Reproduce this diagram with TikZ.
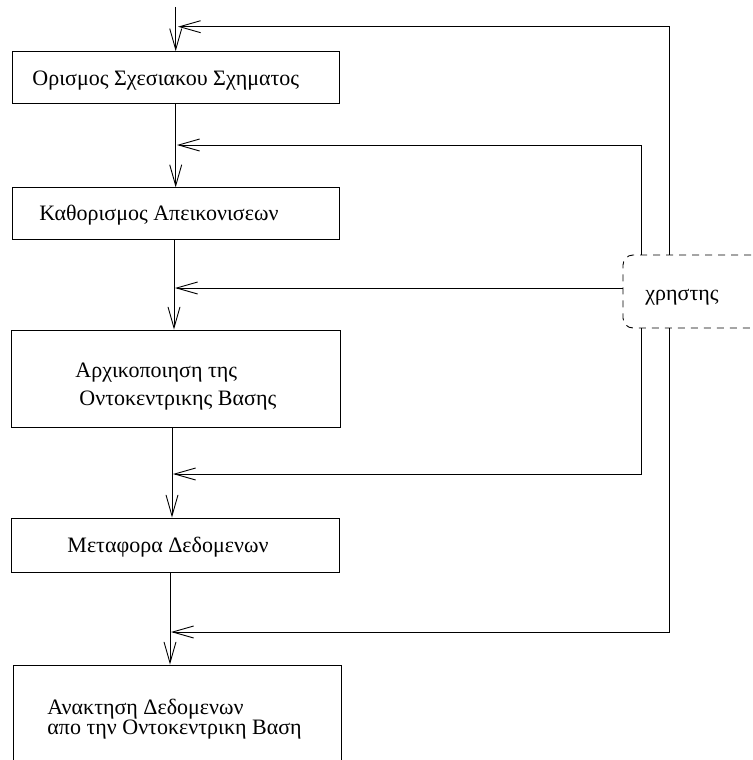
\documentclass[tikz,border=0pt]{standalone}
\usepackage{fontspec}
\setmainfont{Liberation Serif}
\usetikzlibrary{arrows.meta}
\begin{document}
\begin{tikzpicture}[x=1pt,y=-1pt,
  line width=0.9pt,
  box/.style={draw, rectangle, inner sep=0pt},
  lbl/.style={inner sep=0pt, anchor=base west, font=\fontsize{22}{26}\selectfont},
  flow/.style={-{Straight Barb[length=21pt,width=12pt,line width=0.9pt]}},
  userbox/.style={draw, dashed, dash pattern=on 7pt off 6pt, rounded corners=10pt, inner sep=0pt}]
\useasboundingbox (0,0) rectangle (752,760);
\clip (0,0) rectangle (752,760);
% boxes
\node[box, minimum width=327pt, minimum height=51.5pt] (b1) at (176.4,77.4) {};
\node[box, minimum width=327pt, minimum height=52pt] (b2) at (176.4,213.8) {};
\node[box, minimum width=329pt, minimum height=97pt] (b3) at (175.5,378.5) {};
\node[box, minimum width=328pt, minimum height=54pt] (b4) at (175,545) {};
\node[box, minimum width=328pt, minimum height=105pt] (b5) at (177,717.5) {};
\node[userbox, minimum width=177pt, minimum height=73pt] (user) at (711.5,291.5) {};
% texts
\node[lbl] (t1) at (32,85) {Ορισμος Σχεσιακου Σχηματος};
\node[lbl] (t2) at (39,220) {Καθορισμος Απεικονισεων};
\node[lbl] (t3a) at (75,377) {Αρχικοποιηση της};
\node[lbl] (t3b) at (79,405) {Οντοκεντρικης Βασης};
\node[lbl] (t4) at (67,552) {Μεταφορα Δεδομενων};
\node[lbl] (t5a) at (47,714) {Ανακτηση Δεδομενων};
\node[lbl] (t5b) at (47,734) {απο την Οντοκεντρικη Βαση};
\node[lbl] (tu) at (645,300) {χρηστης};
% column coordinates
\coordinate (x1) at (175.7,0);
\coordinate (x2) at (174,0);
\coordinate (x3) at (172,0);
\coordinate (x4) at (170,0);
\coordinate (ua) at (641,0);
\coordinate (ub) at (669,0);
\coordinate (top) at (175.7,7);
% junction points
\coordinate (j0) at (178,26.7);
\coordinate (j1) at (177,145);
\coordinate (j2) at (175,288);
\coordinate (j3) at (173,474);
\coordinate (j4) at (171,632);
% main flow
\draw[flow] (top) -- (b1.north -| x1);
\draw[flow] (b1.south -| x1) -- (b2.north -| x1);
\draw[flow] (b2.south -| x2) -- (b3.north -| x2);
\draw[flow] (b3.south -| x3) -- (b4.north -| x3);
\draw[flow] (b4.south -| x4) -- (b5.north -| x4);
% feedback from user
\draw[flow] (user.north -| ub) |- (j0);
\draw[flow] (user.north -| ua) |- (j1);
\draw[flow] (user.west |- j2) -- (j2);
\draw[flow] (user.south -| ua) |- (j3);
\draw[flow] (user.south -| ub) |- (j4);
\end{tikzpicture}
\end{document}
